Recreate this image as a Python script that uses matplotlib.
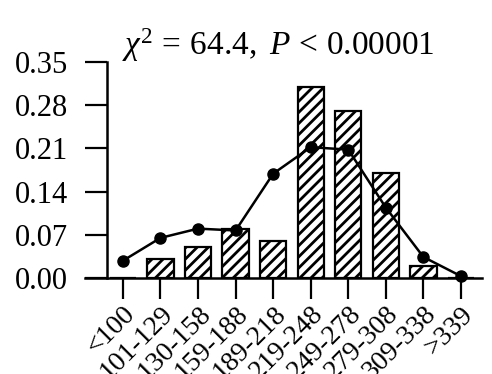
import matplotlib
matplotlib.use("Agg")
import matplotlib.pyplot as plt

categories = ["<100", "101-129", "130-158", "159-188", "189-218", "219-248",
              "249-278", "279-308", "309-338", ">339"]
observed = [0.0, 0.03, 0.05, 0.08, 0.06, 0.31, 0.27, 0.17, 0.02, 0.0]
expected = [0.028, 0.065, 0.08, 0.077, 0.169, 0.212, 0.208, 0.114, 0.034, 0.003]
yticks = [0.00, 0.07, 0.14, 0.21, 0.28, 0.35]
ytick_labels = ["0.00", "0.07", "0.14", "0.21", "0.28", "0.35"]
title = r"$\chi^2\,=\,64.4,\ P\,<\,0.00001$"

plt.rcParams["font.family"] = ["Liberation Serif", "DejaVu Serif"]
plt.rcParams["mathtext.fontset"] = "custom"
plt.rcParams["mathtext.rm"] = "Liberation Serif"
plt.rcParams["mathtext.it"] = "Liberation Serif:italic"
plt.rcParams["hatch.linewidth"] = 2.0

fig = plt.figure(figsize=(4.92, 3.74), dpi=100)
ax = fig.add_axes([85/492, 96/374, (482-85)/492, 216/374])

x = list(range(len(categories)))
ax.bar(x, observed, width=0.7, facecolor="white", edgecolor="black",
       linewidth=1.6, hatch="///", zorder=2)
ax.plot(x, expected, color="black", linewidth=1.8, marker="o",
        markersize=8, zorder=3, clip_on=False)

ax.set_xlim(-1.01, 9.56)
ax.set_ylim(0, 0.35)

for s in ["top", "right"]:
    ax.spines[s].set_visible(False)
ax.spines["left"].set_position(("data", -0.43))
ax.spines["left"].set_bounds(0, 0.35)
ax.spines["left"].set_linewidth(1.8)
ax.spines["bottom"].set_linewidth(1.8)

ax.set_yticks(yticks)
ax.set_yticklabels(ytick_labels, fontsize=22)
ax.set_xticks(x)
ax.set_xticklabels(categories, fontsize=20, rotation=45, ha="right",
                   va="top", rotation_mode="anchor")
ax.tick_params(axis="y", direction="out", length=16, width=1.6, pad=12)
ax.tick_params(axis="x", direction="out", length=15, width=1.6, pad=2)

fig.text(122/492, 1 - 55/374, title, fontsize=24, ha="left", va="baseline")

fig.savefig("out.png", dpi=100)
